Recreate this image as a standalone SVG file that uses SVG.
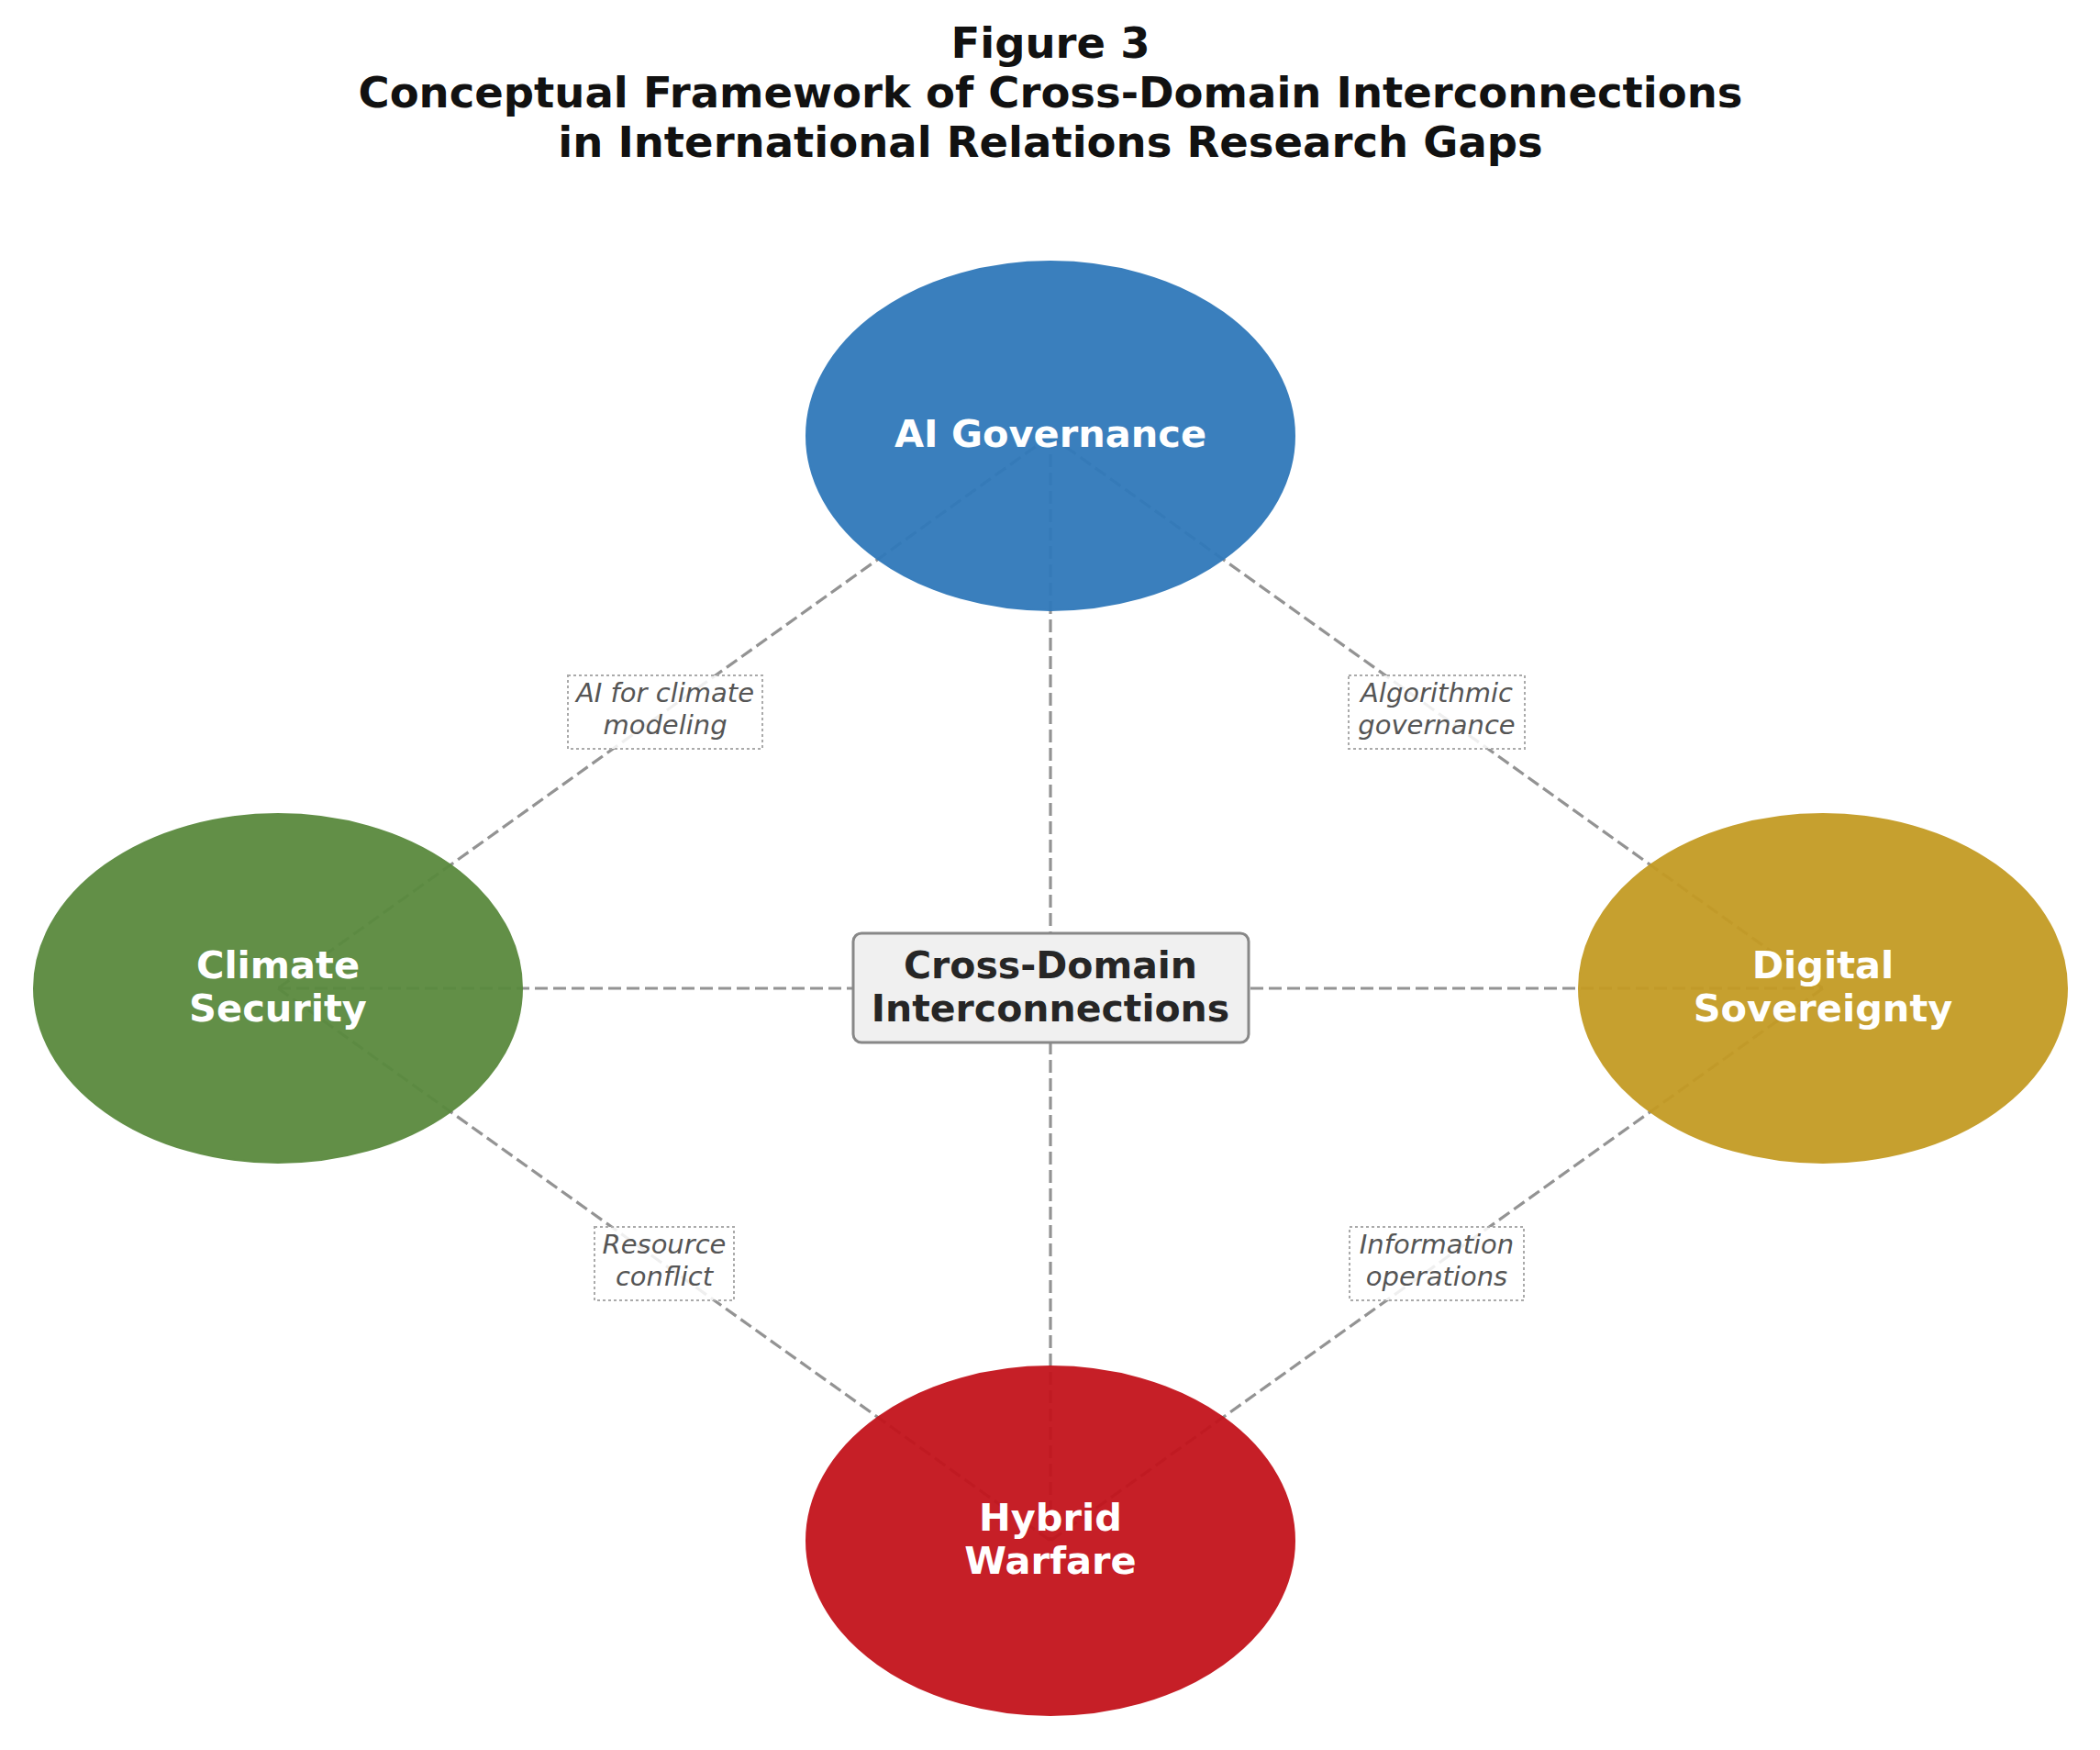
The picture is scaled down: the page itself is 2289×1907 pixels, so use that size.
<svg xmlns="http://www.w3.org/2000/svg" width="2289" height="1907" viewBox="0 0 2289 1907">
<style>
.title{font-family:"DejaVu Sans","Liberation Sans",sans-serif;font-weight:bold;font-size:46.5px;fill:#111;text-anchor:middle}
.conn{stroke:#808080;stroke-width:3.2;stroke-dasharray:14 6;fill:none;opacity:0.85}
.node{opacity:0.95;stroke-width:2}
.nlabel{font-family:"DejaVu Sans","Liberation Sans",sans-serif;font-weight:bold;font-size:41.5px;fill:#fff;text-anchor:middle}
.clabel{font-family:"DejaVu Sans","Liberation Sans",sans-serif;font-weight:bold;font-size:41px;fill:#262626;text-anchor:middle}
.ebox{fill:#fff;fill-opacity:0.85;stroke:#aaa;stroke-width:2;stroke-dasharray:3 3}
.elabel{font-family:"DejaVu Sans","Liberation Sans",sans-serif;font-style:italic;font-size:29px;fill:#555;text-anchor:middle}
</style>
<rect width="2289" height="1907" fill="#fff"/>
<g id="title">
<text class="title" x="1145" y="63">Figure 3</text>
<text class="title" x="1145" y="117">Conceptual Framework of Cross-Domain Interconnections</text>
<text class="title" x="1145" y="171">in International Relations Research Gaps</text>
</g>
<g id="connectors">
<line class="conn" x1="1145" y1="475" x2="303" y2="1077"/>
<line class="conn" x1="1145" y1="475" x2="1987" y2="1077"/>
<line class="conn" x1="303" y1="1077" x2="1145" y2="1679"/>
<line class="conn" x1="1987" y1="1077" x2="1145" y2="1679"/>
<line class="conn" x1="1145" y1="475" x2="1145" y2="1679"/>
<line class="conn" x1="303" y1="1077" x2="1987" y2="1077"/>
</g>
<g id="node-ai">
<ellipse class="node" cx="1145" cy="475" rx="266" ry="190" fill="#3079BA" stroke="#3079BA"/>
<text class="nlabel" x="1145" y="487">AI Governance</text>
</g>
<g id="node-climate">
<ellipse class="node" cx="303" cy="1077" rx="266" ry="190" fill="#5A8A3E" stroke="#5A8A3E"/>
<text class="nlabel" x="303" y="1066">Climate</text>
<text class="nlabel" x="303" y="1113">Security</text>
</g>
<g id="node-digital">
<ellipse class="node" cx="1987" cy="1077" rx="266" ry="190" fill="#C49B24" stroke="#C49B24"/>
<text class="nlabel" x="1987" y="1066">Digital</text>
<text class="nlabel" x="1987" y="1113">Sovereignty</text>
</g>
<g id="node-hybrid">
<ellipse class="node" cx="1145" cy="1679" rx="266" ry="190" fill="#C3141C" stroke="#C3141C"/>
<text class="nlabel" x="1145" y="1668">Hybrid</text>
<text class="nlabel" x="1145" y="1715">Warfare</text>
</g>
<g id="node-center">
<rect x="930" y="1017" width="431" height="119" rx="9" fill="#f0f0f0" stroke="#888" stroke-width="3"/>
<text class="clabel" x="1145" y="1066">Cross-Domain</text>
<text class="clabel" x="1145" y="1113">Interconnections</text>
</g>
<g id="edge-labels">
<g id="label-ai-climate">
<rect class="ebox" x="619" y="736" width="212" height="80"/>
<text class="elabel" x="725" y="765">AI for climate</text>
<text class="elabel" x="725" y="800">modeling</text>
</g>
<g id="label-ai-digital">
<rect class="ebox" x="1470" y="736" width="192" height="80"/>
<text class="elabel" x="1566" y="765">Algorithmic</text>
<text class="elabel" x="1566" y="800">governance</text>
</g>
<g id="label-climate-hybrid">
<rect class="ebox" x="648" y="1337" width="152" height="80"/>
<text class="elabel" x="724" y="1366">Resource</text>
<text class="elabel" x="724" y="1401">conflict</text>
</g>
<g id="label-digital-hybrid">
<rect class="ebox" x="1471" y="1337" width="190" height="80"/>
<text class="elabel" x="1566" y="1366">Information</text>
<text class="elabel" x="1566" y="1401">operations</text>
</g>
</g>
</svg>
